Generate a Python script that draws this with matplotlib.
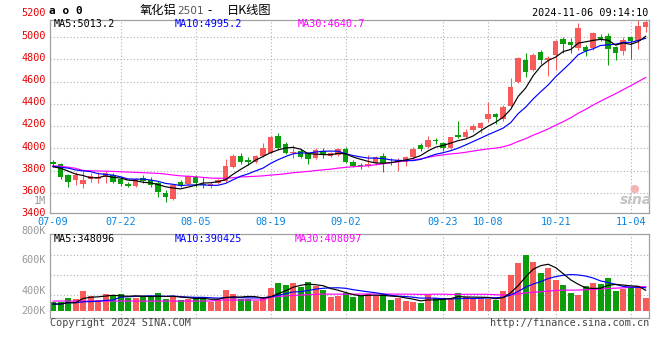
import matplotlib
matplotlib.use("Agg")
import matplotlib.pyplot as plt
import numpy as np
from matplotlib.transforms import ScaledTranslation, blended_transform_factory

# ---------------- data ----------------
date_idx = [0, 9, 19, 29, 39, 52, 58, 67, 77]
date_labels = ['07-09', '07-22', '08-05', '08-19', '09-02', '09-23', '10-08', '10-21', '11-04']

opens = [3876, 3859, 3760, 3717, 3676, 3722, 3722, 3740, 3762, 3722,
         3675, 3660, 3732, 3712, 3686, 3600, 3543, 3692, 3680, 3740,
         3680, 3660, 3685, 3709, 3835, 3934, 3895, 3880, 3931, 3955,
         4111, 4039, 3961, 3979, 3955, 3910, 3979, 3931, 3940, 3994,
         3880, 3843, 3841, 3865, 3934, 3880, 3880, 3880, 3919, 4030,
         4015, 4068, 4051, 4000, 4120, 4105, 4165, 4186, 4261, 4310,
         4264, 4385, 4599, 4792, 4704, 4870, 4795, 4837, 4982, 4961,
         4906, 4909, 4906, 5000, 5012, 4909, 4879, 5000, 4967, 5090]
highs = [3895, 3871, 3766, 3785, 3795, 3775, 3789, 3798, 3778, 3745,
         3692, 3730, 3758, 3745, 3704, 3624, 3675, 3712, 3762, 3760,
         3745, 3700, 3725, 3900, 3946, 3955, 3925, 3940, 4045, 4111,
         4135, 4054, 4030, 3991, 3970, 4000, 4006, 3964, 4000, 4009,
         3895, 3865, 3940, 3931, 3955, 3910, 3910, 3931, 4015, 4051,
         4111, 4090, 4060, 4105, 4249, 4171, 4216, 4240, 4420, 4321,
         4388, 4629, 4825, 4855, 4855, 4885, 4834, 4976, 5000, 4991,
         5127, 4931, 5051, 5027, 5036, 4924, 5000, 5006, 5172, 5172]
lows = [3829, 3720, 3654, 3672, 3638, 3700, 3690, 3690, 3686, 3656,
        3655, 3655, 3690, 3655, 3560, 3520, 3535, 3652, 3672, 3650,
        3640, 3645, 3675, 3700, 3826, 3858, 3850, 3870, 3925, 3946,
        3991, 3949, 3910, 3916, 3858, 3900, 3910, 3919, 3930, 3865,
        3829, 3810, 3829, 3850, 3790, 3850, 3800, 3841, 3907, 3979,
        4000, 4040, 3979, 3994, 4096, 4090, 4144, 4141, 4240, 4216,
        4250, 4373, 4584, 4638, 4698, 4759, 4653, 4704, 4855, 4855,
        4885, 4834, 4885, 4967, 4750, 4795, 4840, 4801, 4897, 5051]
closes = [3858, 3738, 3700, 3760, 3718, 3755, 3745, 3780, 3698, 3682,
          3662, 3722, 3706, 3672, 3605, 3564, 3666, 3665, 3750, 3690,
          3665, 3678, 3714, 3841, 3934, 3880, 3877, 3934, 4006, 4105,
          4006, 3961, 3964, 3925, 3904, 3985, 3940, 3955, 3991, 3880,
          3841, 3840, 3859, 3919, 3871, 3865, 3895, 3925, 3994, 3994,
          4075, 4065, 4000, 4099, 4105, 4150, 4201, 4231, 4309, 4285,
          4373, 4554, 4816, 4686, 4840, 4795, 4816, 4970, 4937, 4931,
          5081, 4876, 5036, 4982, 4891, 4861, 4976, 4970, 5105, 5133]
volumes = [147, 147, 215, 198, 334, 249, 181, 283, 266, 283,
           215, 215, 249, 249, 300, 198, 232, 181, 198, 232,
           215, 147, 181, 351, 283, 198, 198, 164, 232, 385,
           470, 436, 470, 397, 487, 419, 351, 235, 249, 295,
           238, 249, 283, 249, 283, 181, 210, 164, 147, 130,
           266, 210, 210, 210, 300, 238, 198, 198, 198, 181,
           334, 606, 810, 946, 827, 640, 725, 521, 436, 300,
           266, 419, 470, 453, 555, 334, 368, 402, 419, 215]
volumes = [v * 1000 for v in volumes]

ma5_head = [3834, 3820, 3795, 3768]
ma10_head = [3838, 3828, 3822, 3805, 3797, 3790, 3772, 3765, 3758]
ma30_head = [3843, 3838, 3830, 3820, 3800, 3798, 3796, 3794, 3792, 3789,
             3786, 3783, 3780, 3777, 3774, 3768, 3759, 3752, 3748, 3744,
             3738, 3732, 3730, 3730, 3735, 3742, 3745, 3748, 3752]
vma5_head = [113000, 113000, 136000, 136000]
vma10_head = [113000, 113000, 136000, 136000, 150000, 155000, 160000, 175000, 181000]
vma30_head = [164000] * 22 + [181000] * 7

price_ticks = [3400, 3600, 3800, 4000, 4200, 4400, 4600, 4800, 5000, 5200]
vol_tick_labels = ['1M', '800K', '600K', '400K', '200K']

title_parts = ['氧化铝', '2501', '-', '日K线图']
timestamp = '2024-11-06 09:14:10'
ma_price_text = ['MA5:5013.2', 'MA10:4995.2', 'MA30:4640.7']
ma_vol_text = ['MA5:348096', 'MA10:390425', 'MA30:408097']


def moving(vals, n, head):
    arr = np.asarray(vals, float)
    out = np.convolve(arr, np.ones(n) / n, mode='valid')
    return np.concatenate([np.asarray(head, float), out])


# ---------------- style ----------------
RED = '#f95a5a'
GREEN = '#0a9f0a'
LBL_RED = '#e60000'
XBLUE = '#0a84e0'
GRAYTXT = '#999999'
GRID = '#b0b0b0'
FRAME = '#a0a0a0'
MONO = 'DejaVu Sans Mono'
CJK = ['Noto Sans CJK SC', 'DejaVu Sans']

W, H = 660, 360
fig = plt.figure(figsize=(W / 100, H / 100), dpi=100)
fig.patch.set_facecolor('white')


def fx(x):
    return x / W


def fy(y):
    return 1 - y / H


# main axes: pixel x 50..649, y 19.5..212.7
ax = fig.add_axes([fx(50), fy(212.7), (649 - 50) / W, (212.7 - 19.5) / H])
axv = fig.add_axes([fx(50), fy(317.7), (649 - 50) / W, (317.7 - 234.3) / H])

n = len(closes)
x = np.arange(n)
XL = (-0.4, 79.44)

for a in (ax, axv):
    a.set_xlim(*XL)
    for s in a.spines.values():
        s.set_color(FRAME)
        s.set_linewidth(0.9)
    a.tick_params(length=0)
    a.set_yticks([])
    for i in date_idx[1:]:
        a.axvline(i, color=GRID, lw=0.8, ls=(0, (1, 2)), zorder=0)

ax.set_ylim(3420, 5160)
axv.set_ylim(-119000, 1298800)

# horizontal grid main
for v in price_ticks:
    if 3420 < v < 5160:
        ax.axhline(v, color=GRID, lw=0.8, ls=(0, (1, 2)), zorder=0)

# price labels
btr = blended_transform_factory(ax.transAxes, ax.transData)
off = ScaledTranslation(-4 / 100, 1.7 / 100, fig.dpi_scale_trans)
for v in price_ticks:
    ax.text(0, v, str(v), transform=btr + off, ha='right', va='center',
            color=LBL_RED, fontsize=7.3, family=MONO, clip_on=False)

# candles
bw = 0.72
for i in range(n):
    o, h, l, c = opens[i], highs[i], lows[i], closes[i]
    col = RED if c >= o else GREEN
    ax.vlines(i, l, h, color=col, lw=0.75, zorder=2)
    bot = min(o, c)
    hgt = max(abs(c - o), 9)
    ax.bar(i, hgt, bottom=bot, width=bw, color=col, edgecolor=col, lw=0, zorder=3)

ma5 = moving(closes, 5, ma5_head)
ma10 = moving(closes, 10, ma10_head)
ma30 = moving(closes, 30, ma30_head)
ax.plot(x, ma30, color='#ff00ff', lw=0.85, zorder=4)
ax.plot(x, ma10, color='#0000ff', lw=0.85, zorder=5)
ax.plot(x, ma5, color='black', lw=0.85, zorder=6)

ax.set_xticks(date_idx)
ax.set_xticklabels(date_labels, color=XBLUE, fontsize=7.3, family=MONO)
ax.tick_params(axis='x', pad=3)
axv.set_xticks([])

# volume panel
for yy in (255, 275, 295):
    axv.axhline((310.7 - yy) * 17000, color=GRID, lw=0.8, ls=(0, (1, 2)), zorder=0)
vcols = [RED if closes[i] >= opens[i] else GREEN for i in range(n)]
axv.bar(x, volumes, width=0.8, color=vcols, lw=0, zorder=2)
vma5 = moving(volumes, 5, vma5_head)
vma10 = moving(volumes, 10, vma10_head)
vma30 = moving(volumes, 30, vma30_head)
axv.plot(x, vma30, color='#ff00ff', lw=0.85, zorder=4)
axv.plot(x, vma10, color='#0000ff', lw=0.85, zorder=5)
axv.plot(x, vma5, color='black', lw=0.85, zorder=6)

# volume axis labels
for lab, yy in zip(vol_tick_labels, [201, 230.7, 260.3, 290.7, 311]):
    fig.text(fx(46), fy(yy), lab, ha='right', va='center', color=GRAYTXT,
             fontsize=7.3, family=MONO)

# header texts
fig.text(fx(49), fy(11.5), 'a o 0', ha='left', va='center', color='black',
         fontsize=8, family=MONO, fontweight='bold')
fig.text(fx(140), fy(10.5), title_parts[0], ha='left', va='center', color='black',
         fontsize=8.8, family=CJK)
fig.text(fx(177), fy(11), title_parts[1], ha='left', va='center', color='#555555',
         fontsize=7.6, family='DejaVu Sans')
fig.text(fx(207), fy(10.5), title_parts[2], ha='left', va='center', color='black',
         fontsize=8.8, family=CJK)
fig.text(fx(227), fy(10.5), title_parts[3], ha='left', va='center', color='black',
         fontsize=8.8, family=CJK)
fig.text(fx(648), fy(12.5), timestamp, ha='right', va='center', color='black',
         fontsize=7.3, family=MONO)

ma_cols = ['black', '#0000ff', '#ff00ff']
for txt, xx, cc in zip(ma_price_text, [54, 175, 298], ma_cols):
    fig.text(fx(xx), fy(24), txt, ha='left', va='center', color=cc, fontsize=7.3, family=MONO)
for txt, xx, cc in zip(ma_vol_text, [54, 175, 295], ma_cols):
    fig.text(fx(xx), fy(238.7), txt, ha='left', va='center', color=cc, fontsize=7.3, family=MONO)

# footer
fig.text(fx(50), fy(323.5), 'Copyright 2024 SINA.COM', ha='left', va='center',
         color='#444444', fontsize=7.3, family=MONO)
fig.text(fx(649), fy(323.5), 'http://finance.sina.com.cn', ha='right', va='center',
         color='#444444', fontsize=7.3, family=MONO)

# sina watermark
fig.text(fx(636), fy(200), 'sina', ha='center', va='center', color='#c4c4c4',
         fontsize=10, family='DejaVu Sans', fontweight='bold', style='italic')
fig.text(fx(634), fy(189), '●', ha='center', va='center', color='#f4b4b4',
         fontsize=8, family='DejaVu Sans')

fig.savefig('out.png', dpi=100, facecolor='white')
